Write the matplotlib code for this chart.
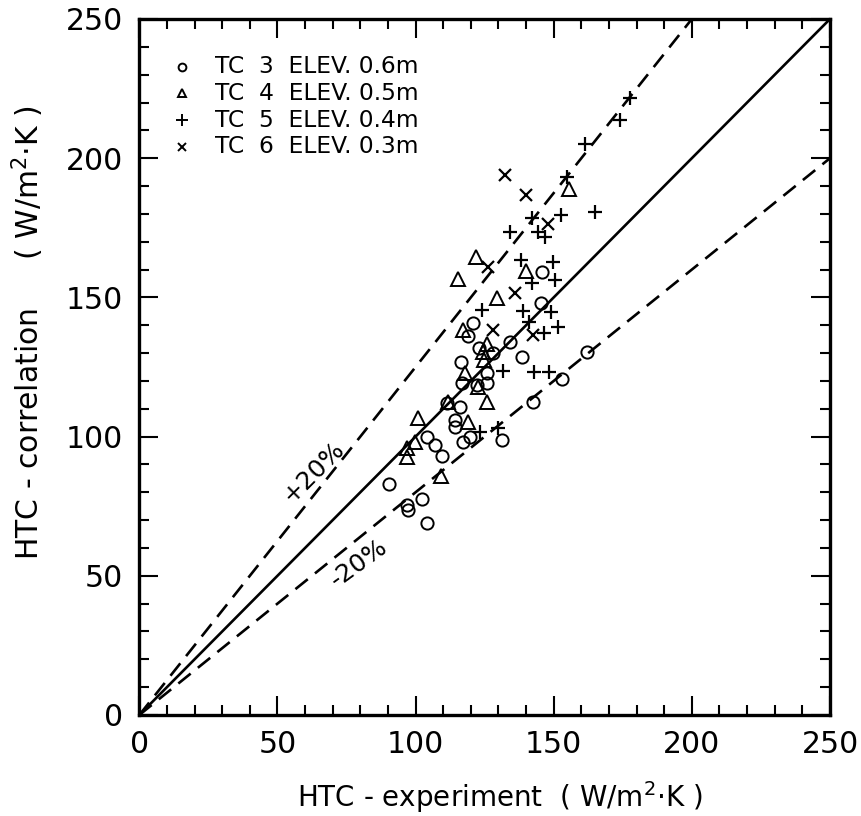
import matplotlib
matplotlib.use("Agg")
import matplotlib.pyplot as plt
import numpy as np
from matplotlib.ticker import MultipleLocator

plt.rcParams['font.family'] = ['DejaVu Sans']

# TC 3 (circles): experiment, correlation
tc3_exp = [145.6, 145.3, 120.9, 119.0, 134.3, 122.9, 128.1, 138.5, 116.3, 125.7,
           116.7, 122.1, 125.7, 152.9, 162.0, 142.6, 111.3, 116.1, 114.3, 114.3,
           131.2, 117.0, 119.7, 104.0, 107.0, 109.4, 90.4, 102.3, 96.8, 97.1, 104.0]
tc3_cor = [159.1, 148.1, 140.9, 136.0, 134.1, 132.0, 129.9, 128.7, 126.9, 122.7,
           119.1, 118.5, 119.1, 120.7, 130.5, 112.5, 112.0, 110.7, 106.0, 103.6,
           98.8, 98.2, 99.7, 99.7, 97.0, 93.0, 83.0, 77.5, 75.4, 73.6, 68.9]

# TC 4 (triangles)
tc4_exp = [155.5, 121.9, 115.5, 139.8, 129.4, 117.3, 126.0, 124.5, 124.9, 117.9,
           122.5, 126.0, 111.8, 101.0, 119.1, 99.8, 96.8, 96.8, 109.2]
tc4_cor = [188.9, 164.4, 156.5, 159.6, 149.7, 138.3, 133.2, 130.5, 127.5, 122.7,
           117.9, 112.5, 112.5, 106.6, 105.4, 98.2, 95.8, 92.8, 86.0]

# TC 5 (plus)
tc5_exp = [177.6, 173.9, 161.3, 154.7, 164.9, 142.0, 152.6, 134.2, 144.4, 146.7,
           138.0, 149.8, 142.3, 150.3, 124.1, 138.9, 149.0, 141.0, 151.5, 146.5,
           131.5, 142.8, 148.2, 123.3, 129.9]
tc5_cor = [221.5, 213.7, 205.0, 193.4, 180.8, 178.4, 179.6, 173.6, 173.6, 171.7,
           163.4, 162.8, 155.3, 156.1, 145.5, 145.1, 144.8, 141.3, 139.2, 137.1,
           123.6, 123.3, 123.3, 101.8, 103.0]

# TC 6 (x)
tc6_exp = [132.4, 140.0, 148.0, 126.3, 136.0, 128.1, 142.6]
tc6_cor = [194.0, 186.8, 176.4, 161.0, 151.5, 138.3, 136.4]

legend_labels = ["TC  3  ELEV. 0.6m", "TC  4  ELEV. 0.5m",
                 "TC  5  ELEV. 0.4m", "TC  6  ELEV. 0.3m"]

axis_max = 250
upper_factor = 1.25
lower_factor = 0.8

fig = plt.figure(figsize=(8.62, 8.16), dpi=100)
ax = fig.add_axes([139.3 / 862, 1 - 715 / 816, 690.7 / 862, 696 / 816])

# reference lines
ref = np.array([0, axis_max])
ax.plot(ref, ref, color='black', lw=1.9, solid_capstyle='butt')
ax.plot([0, axis_max / upper_factor], [0, axis_max], color='black', lw=1.9,
        dashes=(6, 3.5))
ax.plot([0, axis_max], [0, axis_max * lower_factor], color='black', lw=1.9,
        dashes=(6, 3.5))

ms = 8.8
mew = 1.4
ax.plot(tc3_exp, tc3_cor, ls='none', marker='o', ms=ms, mfc='none', mec='black', mew=mew)
ax.plot(tc4_exp, tc4_cor, ls='none', marker='^', ms=ms + 0.6, mfc='none', mec='black', mew=mew)
ax.plot(tc5_exp, tc5_cor, ls='none', marker='+', ms=ms + 1.5, mec='black', mew=mew + 0.2)
ax.plot(tc6_exp, tc6_cor, ls='none', marker='x', ms=ms - 0.8, mec='black', mew=mew + 0.2)

# legend (manual)
markers = ['o', '^', '+', 'x']
lsizes = [5.6, 6.2, 8.0, 6.0]
for i, (m, lab) in enumerate(zip(markers, legend_labels)):
    yy = 0.9315 - i * 0.0384
    ax.plot([0.0614], [yy], transform=ax.transAxes, marker=m, ls='none',
            ms=lsizes[i], mfc='none', mec='black', mew=1.4, clip_on=False)
    ax.text(0.109, yy, lab, transform=ax.transAxes, fontsize=16.8,
            ha='left', va='center')

# percentage labels
ax.text(63.0, 87.4, "+20%", fontsize=18, rotation=45, ha='center', va='center')
ax.text(79.3, 54.5, "-20%", fontsize=18, rotation=36, ha='center', va='center')

ax.set_xlim(0, axis_max)
ax.set_ylim(0, axis_max)
ax.xaxis.set_major_locator(MultipleLocator(50))
ax.yaxis.set_major_locator(MultipleLocator(50))
ax.xaxis.set_minor_locator(MultipleLocator(10))
ax.yaxis.set_minor_locator(MultipleLocator(10))
ax.tick_params(which='both', direction='in', top=True, right=True, width=1.5,
               colors='black')
ax.tick_params(which='major', length=14, labelsize=21.5)
ax.tick_params(which='minor', length=7)
ax.tick_params(axis='x', which='major', pad=11)
ax.tick_params(axis='y', which='major', pad=11.5)
for s in ax.spines.values():
    s.set_linewidth(2.4)

ax.set_xlabel("HTC - experiment  ( W/m$^2$·K )", fontsize=20)
ax.xaxis.set_label_coords(0.522, -0.092)
ax.set_ylabel("HTC - correlation     ( W/m$^2$·K )", fontsize=21.5)
ax.yaxis.set_label_coords(-0.135, 0.549)

fig.savefig("out.png", dpi=100)
